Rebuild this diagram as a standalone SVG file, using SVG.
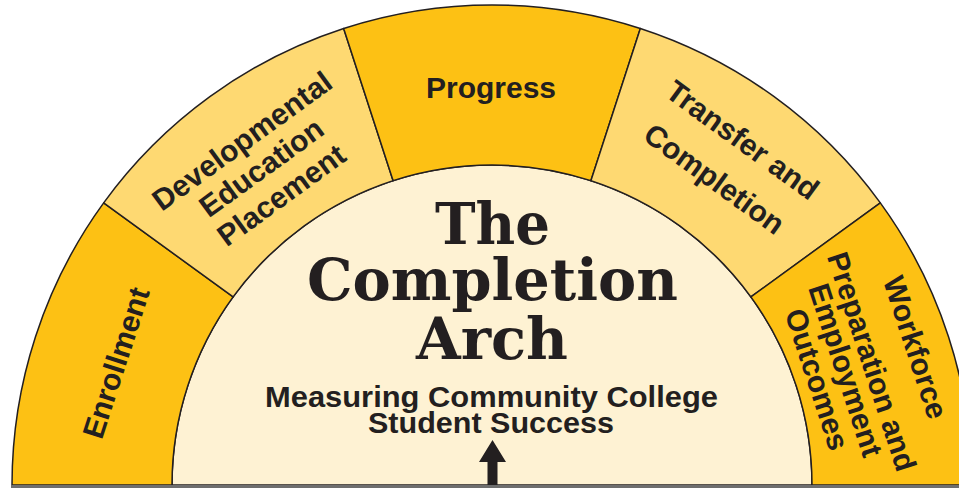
<svg xmlns="http://www.w3.org/2000/svg" width="959" height="488" viewBox="0 0 959 488">
<defs>
<style>
.seg{stroke:#231F20;stroke-width:1.5;stroke-linejoin:round}
.dark{fill:#FDC114}
.light{fill:#FED972}
.core{fill:#FEF2D3;stroke:#231F20;stroke-width:1.5}
.lbl{font-family:"Liberation Sans",Arial,sans-serif;font-weight:bold;font-size:30px;fill:#231F20;text-anchor:middle}
.title{font-family:"DejaVu Serif",serif;font-weight:bold;font-size:58px;fill:#231F20;text-anchor:middle}
.sub{font-family:"Liberation Sans",Arial,sans-serif;font-weight:bold;font-size:29px;fill:#231F20;text-anchor:middle}
</style>
</defs>
<rect width="959" height="488" fill="#FFFFFF"/>
<g id="core">
<path class="core" d="M172 485 A320 320 0 0 1 812 485 Z"/>
</g>
<g id="enrollment">
<path class="seg dark" d="M12 485 A480 480 0 0 1 103.67 202.86 L233.11 296.91 A320 320 0 0 0 172 485 Z"/>
<text class="lbl" transform="translate(116.33 362.94) rotate(-72)" x="0" y="10">Enrollment</text>
</g>
<g id="developmental">
<path class="seg light" d="M103.67 202.86 A480 480 0 0 1 343.67 28.49 L393.11 180.66 A320 320 0 0 0 233.11 296.91 Z"/>
<text class="lbl" transform="translate(261.59 167.86) rotate(-36)"><tspan x="0" y="-23">Developmental</tspan><tspan x="0" y="10">Education</tspan><tspan x="0" y="44">Placement</tspan></text>
</g>
<g id="progress">
<path class="seg dark" d="M343.67 28.49 A480 480 0 0 1 640.33 28.49 L590.89 180.66 A320 320 0 0 0 393.11 180.66 Z"/>
<text class="lbl" x="491" y="97.5">Progress</text>
</g>
<g id="transfer">
<path class="seg light" d="M640.33 28.49 A480 480 0 0 1 880.33 202.86 L750.89 296.91 A320 320 0 0 0 590.89 180.66 Z"/>
<text class="lbl" transform="translate(728.29 159.77) rotate(36)"><tspan x="0" y="-14">Transfer and</tspan><tspan x="0" y="34">Completion</tspan></text>
</g>
<g id="workforce">
<path class="seg dark" d="M880.33 202.86 A480 480 0 0 1 972 485 L812 485 A320 320 0 0 0 750.89 296.91 Z"/>
<text class="lbl" transform="translate(872.42 361.39) rotate(72)"><tspan x="0" y="-35">Workforce</tspan><tspan x="0" y="11">Preparation and</tspan><tspan x="0" y="38.5">Employment</tspan><tspan x="0" y="68.5">Outcomes</tspan></text>
</g>
<g id="title">
<text class="title" x="492.5" y="244" textLength="115" lengthAdjust="spacingAndGlyphs">The</text>
<text class="title" x="492.5" y="300" textLength="371" lengthAdjust="spacingAndGlyphs">Completion</text>
<text class="title" x="492" y="359" textLength="152" lengthAdjust="spacingAndGlyphs">Arch</text>
<text class="sub" x="491.5" y="407" textLength="453" lengthAdjust="spacingAndGlyphs">Measuring Community College</text>
<text class="sub" x="491" y="433" textLength="246" lengthAdjust="spacingAndGlyphs">Student Success</text>
</g>
<g id="connectors">
<path d="M492.5 440 L506 462 L497.5 462 L497.5 486 L487.5 486 L487.5 462 L479 462 Z" fill="#231F20"/>
</g>
<rect x="11" y="485" width="948" height="3" fill="#6E6E6E"/>
</svg>
